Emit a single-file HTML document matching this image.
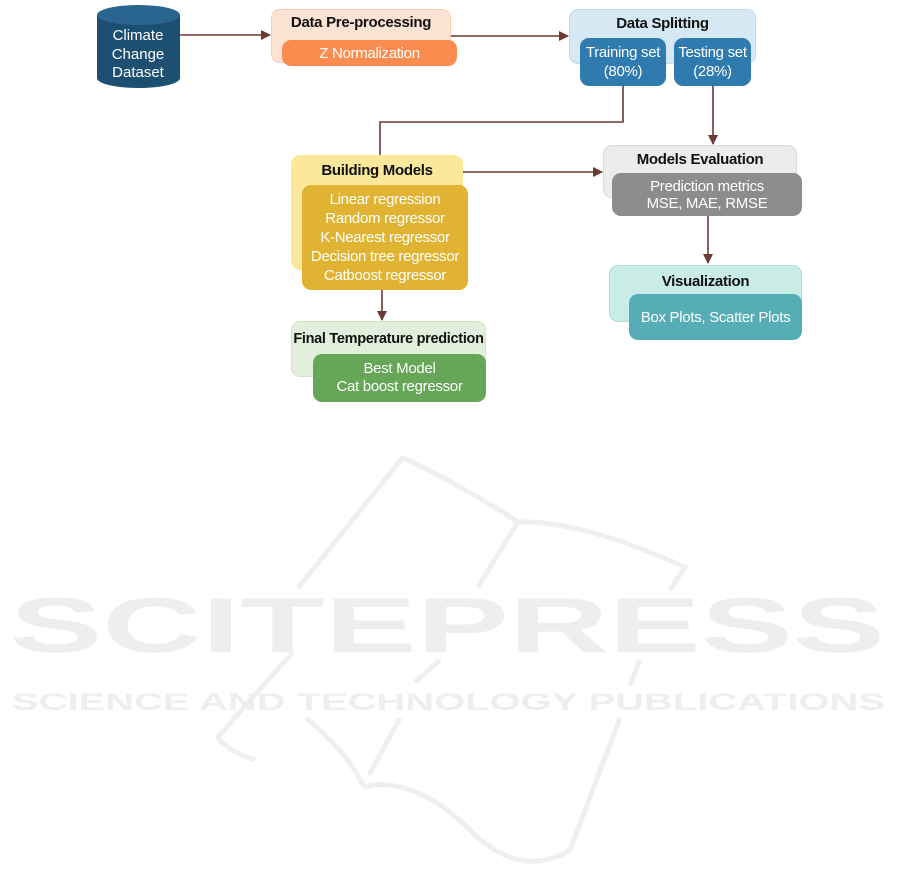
<!DOCTYPE html>
<html><head><meta charset="utf-8"><style>
body{margin:0;background:#fff;width:901px;height:886px;overflow:hidden;position:relative;font-family:"Liberation Sans",sans-serif}
.b{position:absolute;border-radius:9px;box-sizing:border-box}
.t{position:absolute;text-align:center;font-weight:bold;color:#111;font-size:15px;letter-spacing:-0.3px}
.w{color:#fff;font-weight:normal;font-size:15px;text-align:center;line-height:19px;display:flex;flex-direction:column;justify-content:center;letter-spacing:-0.3px}
</style></head><body>
<svg width="901" height="886" style="position:absolute;left:0;top:0">
<g fill="none" stroke="#efefef" stroke-width="5">
<path d="M403 457 L298 588"/><path d="M293 652 L218 737 Q225 750 255 760"/>
<path d="M404 458 Q470 490 518 522 L478 587"/><path d="M518 522 Q580 520 685 567 L670 590"/>
<path d="M440 660 L415 682"/><path d="M400 718 L369 775"/>
<path d="M306 718 Q345 750 360 780 Q365 790 370 785 Q420 780 470 830 Q520 880 570 850 L620 718"/>
<path d="M640 660 L630 685"/>
</g>
<text x="10" y="652" font-family="Liberation Sans" font-weight="bold" font-size="78" fill="#eeeeee" textLength="875" lengthAdjust="spacingAndGlyphs">SCITEPRESS</text>
<text x="12" y="710" font-family="Liberation Sans" font-weight="bold" font-size="24" fill="#eeeeee" textLength="873" lengthAdjust="spacingAndGlyphs">SCIENCE AND TECHNOLOGY PUBLICATIONS</text>
<defs><marker id="a" markerWidth="10" markerHeight="10" refX="9" refY="5" orient="auto" markerUnits="userSpaceOnUse"><path d="M0 0 L10 5 L0 10 Z" fill="#6b3a34"/></marker></defs>
<g stroke="#6b3a34" stroke-width="1.6" fill="none">
<path d="M180 35 H270" marker-end="url(#a)"/>
<path d="M451 36 H568" marker-end="url(#a)"/>
<path d="M623 86 V122 H380 V155"/>
<path d="M713 86 V144" marker-end="url(#a)"/>
<path d="M463 172 H602" marker-end="url(#a)"/>
<path d="M708 216 V263" marker-end="url(#a)"/>
<path d="M382 290 V320" marker-end="url(#a)"/>
</g>
<path d="M97 15 V78 A41.5 10 0 0 0 180 78 V15" fill="#1d4f72"/>
<ellipse cx="138.5" cy="15" rx="41.5" ry="10" fill="#2a6590"/>
<text font-family="Liberation Sans" font-size="15" fill="#fff" text-anchor="middle"><tspan x="138" y="40">Climate</tspan><tspan x="138" y="59">Change</tspan><tspan x="138" y="77">Dataset</tspan></text>
</svg>
<div class="b" style="left:271px;top:9px;width:180px;height:54px;background:#fde3d3;border:1px solid #f8cdb3"></div>
<div class="t" style="left:271px;top:14px;width:180px">Data Pre-processing</div>
<div class="b w" style="left:282px;top:40px;width:175px;height:26px;background:#fb8c4f">Z Normalization</div>

<div class="b" style="left:569px;top:9px;width:187px;height:55px;background:#d7e8f5;border:1px solid #c2daee"></div>
<div class="t" style="left:569px;top:15px;width:187px">Data Splitting</div>
<div class="b w" style="left:580px;top:38px;width:86px;height:48px;background:#2f7bb0">Training set<br>(80%)</div>
<div class="b w" style="left:674px;top:38px;width:77px;height:48px;background:#2f7bb0">Testing set<br>(28%)</div>

<div class="b" style="left:291px;top:155px;width:172px;height:115px;background:#fbe89a"></div>
<div class="t" style="left:291px;top:162px;width:172px">Building Models</div>
<div class="b w" style="left:302px;top:185px;width:166px;height:105px;background:#e0b432">Linear regression<br>Random regressor<br>K-Nearest regressor<br>Decision tree regressor<br>Catboost regressor</div>

<div class="b" style="left:603px;top:145px;width:194px;height:53px;background:#ececec;border:1px solid #dadada"></div>
<div class="t" style="left:603px;top:151px;width:194px">Models Evaluation</div>
<div class="b w" style="left:612px;top:173px;width:190px;height:43px;background:#8c8c8c;line-height:17px">Prediction metrics<br>MSE, MAE, RMSE</div>

<div class="b" style="left:609px;top:265px;width:193px;height:57px;background:#c9ece7;border:1px solid #b0e0da"></div>
<div class="t" style="left:609px;top:273px;width:193px">Visualization</div>
<div class="b w" style="left:629px;top:294px;width:173px;height:46px;background:#56adb5">Box Plots, Scatter Plots</div>

<div class="b" style="left:291px;top:321px;width:195px;height:56px;background:#e2efdc;border:1px solid #cfe3c6"></div>
<div class="t" style="left:291px;top:331px;width:195px;font-size:14.5px">Final Temperature prediction</div>
<div class="b w" style="left:313px;top:354px;width:173px;height:48px;background:#66a657;line-height:18px">Best Model<br>Cat boost regressor</div>
</body></html>
